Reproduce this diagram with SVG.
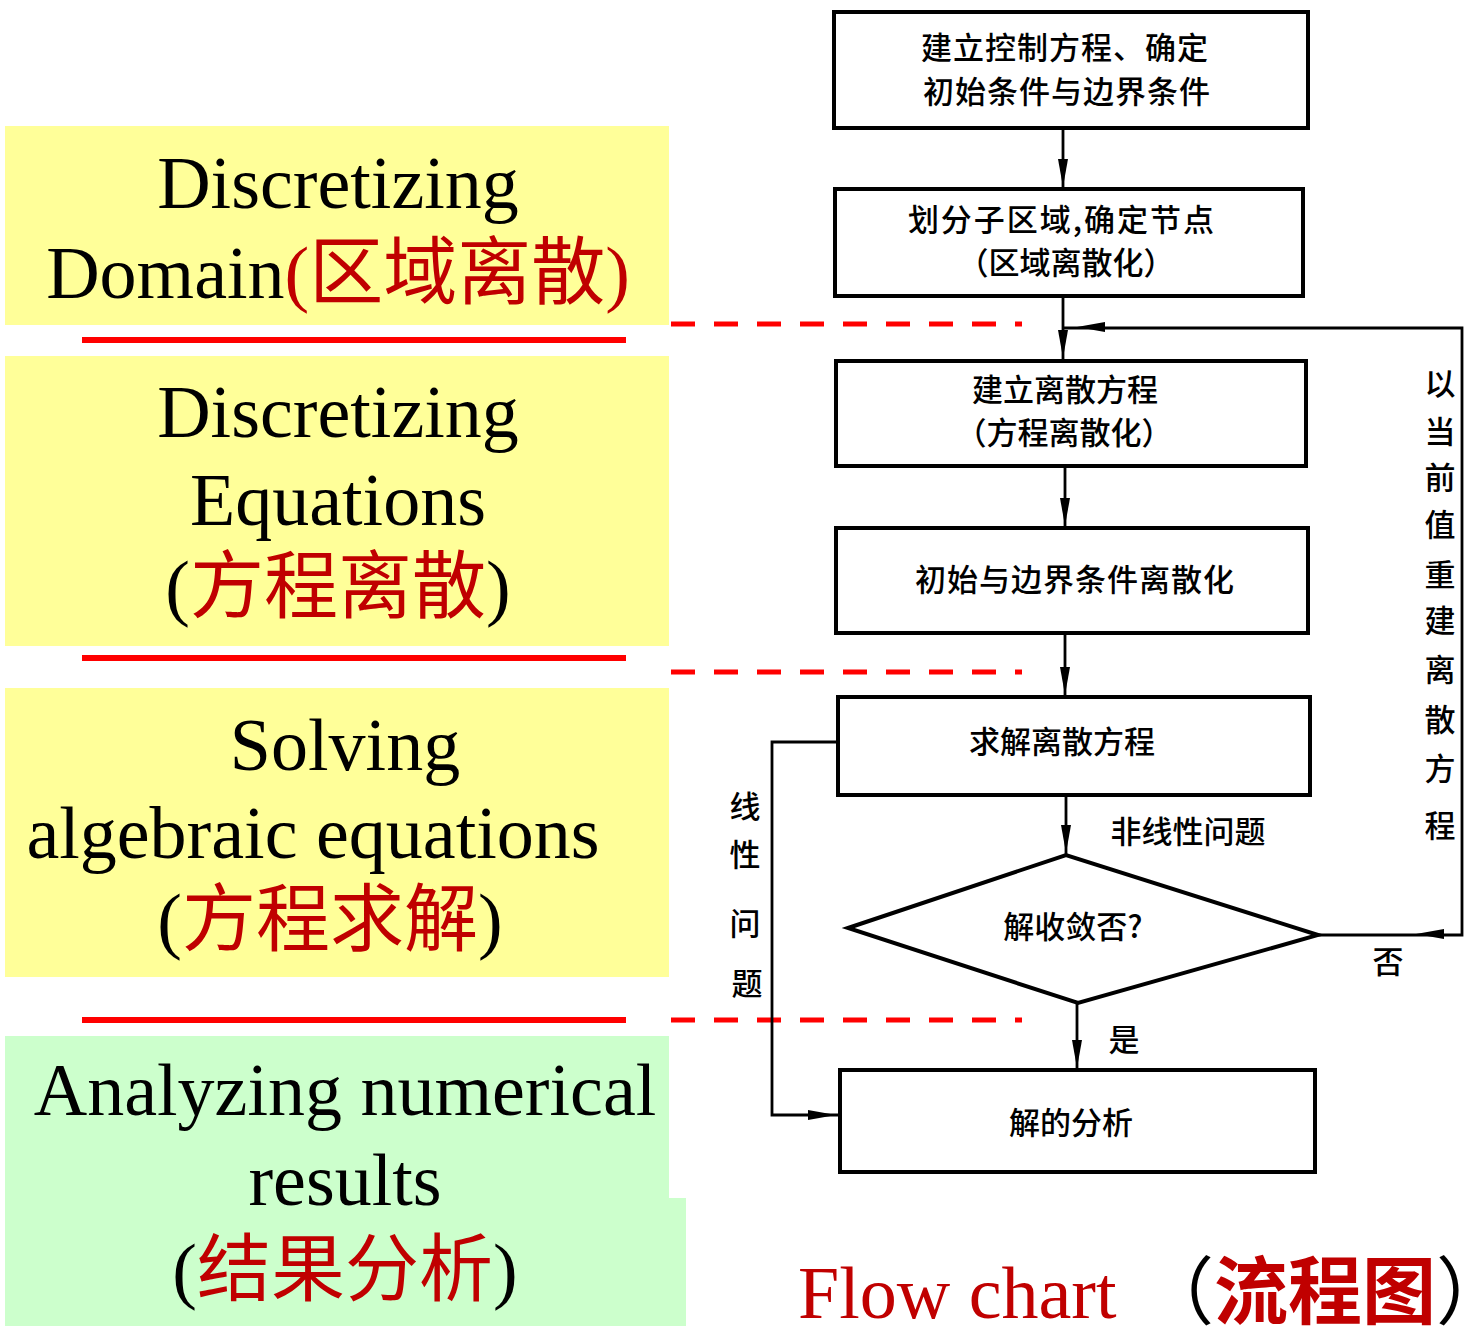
<svg xmlns="http://www.w3.org/2000/svg" xmlns:xlink="http://www.w3.org/1999/xlink" width="1473" height="1326" viewBox="0 0 1473 1326">
<style>
.en{font-family:"Liberation Serif","Times New Roman",serif;font-size:74px;fill:#000}
.zh{font-family:"Noto Sans CJK SC","Liberation Sans",sans-serif;fill:#C00000}
.box{fill:#fff;stroke:#000;stroke-width:4}
.fc{font-family:"Noto Sans CJK SC","Liberation Sans",sans-serif;font-size:31px;font-weight:500;fill:#000;text-anchor:middle}
.ln{fill:none;stroke:#000;stroke-width:2.8}
.red{stroke:#FF0000;stroke-width:6}
.dash{stroke:#FF0000;stroke-width:5;stroke-dasharray:24 19}
</style>
<defs>
<path id="ah" d="M0,0 L-28,-5 L-28,5 Z" fill="#000"/>
</defs>
<rect width="1473" height="1326" fill="#fff"/>

<g id="panel-domain">
<rect x="5" y="126" width="664" height="199" fill="#FFFF99"/>
<text class="en" x="338" y="208" text-anchor="middle">Discretizing</text>
<text class="en" x="338" y="298" text-anchor="middle">Domain<tspan fill="#C00000">(</tspan><tspan class="zh">区域离散</tspan><tspan fill="#C00000">)</tspan></text>
</g>
<g id="panel-equations">
<rect x="5" y="356" width="664" height="290" fill="#FFFF99"/>
<text class="en" x="338" y="437" text-anchor="middle">Discretizing</text>
<text class="en" x="338" y="525" text-anchor="middle">Equations</text>
<text class="en" x="338" y="612" text-anchor="middle">(<tspan class="zh">方程离散</tspan>)</text>
</g>
<g id="panel-solving">
<rect x="5" y="688" width="664" height="289" fill="#FFFF99"/>
<text class="en" x="345" y="770" text-anchor="middle">Solving</text>
<text class="en" x="313" y="858" text-anchor="middle">algebraic equations</text>
<text class="en" x="330" y="945" text-anchor="middle">(<tspan class="zh">方程求解</tspan>)</text>
</g>
<g id="panel-results">
<rect x="5" y="1036" width="664" height="290" fill="#CCFFCC"/>
<rect x="668" y="1198" width="18" height="128" fill="#CCFFCC"/>
<text class="en" x="345" y="1115" text-anchor="middle">Analyzing numerical</text>
<text class="en" x="345" y="1205" text-anchor="middle">results</text>
<text class="en" x="345" y="1295" text-anchor="middle">(<tspan class="zh">结果分析</tspan>)</text>
</g>

<g id="separators">
<line class="red" x1="82" y1="340" x2="626" y2="340"/>
<line class="red" x1="82" y1="658" x2="626" y2="658"/>
<line class="red" x1="82" y1="1020" x2="626" y2="1020"/>
<line class="dash" x1="671" y1="324" x2="1022" y2="324"/>
<line class="dash" x1="671" y1="672" x2="1022" y2="672"/>
<line class="dash" x1="671" y1="1020" x2="1022" y2="1020"/>
</g>

<g id="connectors">
<line class="ln" x1="1063" y1="128" x2="1063" y2="187"/>
<line class="ln" x1="1063" y1="296" x2="1063" y2="360"/>
<line class="ln" x1="1065" y1="466" x2="1065" y2="527"/>
<line class="ln" x1="1065" y1="633" x2="1065" y2="696"/>
<line class="ln" x1="1066" y1="795" x2="1066" y2="854"/>
<line class="ln" x1="1077" y1="1003" x2="1077" y2="1069"/>
<polyline class="ln" points="838,742 772,742 772,1115 838,1115"/>
<polyline class="ln" points="1318,935 1462,935 1462,328 1063,328"/>
<use xlink:href="#ah" transform="translate(1063,187) rotate(90)"/>
<use xlink:href="#ah" transform="translate(1063,358) rotate(90)"/>
<use xlink:href="#ah" transform="translate(1065,526) rotate(90)"/>
<use xlink:href="#ah" transform="translate(1065,695) rotate(90)"/>
<use xlink:href="#ah" transform="translate(1066,853) rotate(90)"/>
<use xlink:href="#ah" transform="translate(1077,1068) rotate(90)"/>
<use xlink:href="#ah" transform="translate(836,1115)"/>
<use xlink:href="#ah" transform="translate(1077,327) rotate(180)"/>
<use xlink:href="#ah" transform="translate(1416,934) rotate(180)"/>
<text class="fc" x="1188" y="843">非线性问题</text>
<text class="fc" x="1388" y="973">否</text>
<text class="fc" x="1124" y="1051">是</text>
<g class="fc">
<text x="745" y="818">线</text>
<text x="745" y="866">性</text>
<text x="745" y="935">问</text>
<text x="747" y="995">题</text>
</g>
<g class="fc">
<text x="1440" y="395">以</text>
<text x="1440" y="443">当</text>
<text x="1440" y="489">前</text>
<text x="1440" y="536">值</text>
<text x="1440" y="586">重</text>
<text x="1440" y="632">建</text>
<text x="1440" y="681">离</text>
<text x="1440" y="731">散</text>
<text x="1440" y="780">方</text>
<text x="1440" y="837">程</text>
</g>
</g>

<g id="node-governing">
<rect class="box" x="834" y="12" width="474" height="116"/>
<text class="fc" x="1065" y="59" letter-spacing="1">建立控制方程、确定</text>
<text class="fc" x="1067" y="103" letter-spacing="1">初始条件与边界条件</text>
</g>
<g id="node-domain">
<rect class="box" x="835" y="189" width="468" height="107"/>
<text class="fc" x="1062" y="231" letter-spacing="2">划分子区域,确定节点</text>
<text class="fc" x="1066" y="274">（区域离散化）</text>
</g>
<g id="node-equations">
<rect class="box" x="836" y="361" width="470" height="105"/>
<text class="fc" x="1065" y="401">建立离散方程</text>
<text class="fc" x="1064" y="444">（方程离散化）</text>
</g>
<g id="node-bc">
<rect class="box" x="836" y="528" width="472" height="105"/>
<text class="fc" x="1075" y="591" letter-spacing="1">初始与边界条件离散化</text>
</g>
<g id="node-solve">
<rect class="box" x="838" y="697" width="472" height="98"/>
<text class="fc" x="1062" y="753">求解离散方程</text>
</g>
<g id="node-converge">
<polygon points="848,928 1066,855 1318,935 1078,1003" fill="#fff" stroke="#000" stroke-width="4"/>
<text class="fc" x="1073" y="938">解收敛否?</text>
</g>
<g id="node-analysis">
<rect class="box" x="840" y="1070" width="475" height="102"/>
<text class="fc" x="1071" y="1134">解的分析</text>
</g>

<g id="caption">
<text class="en" x="798" y="1318" style="fill:#C00000">Flow chart</text>
<text x="1140" y="1318" font-family="'Noto Sans CJK SC',sans-serif" font-size="74" fill="#000">（<tspan fill="#C00000" font-weight="bold">流程图</tspan>）</text>
</g>
</svg>
